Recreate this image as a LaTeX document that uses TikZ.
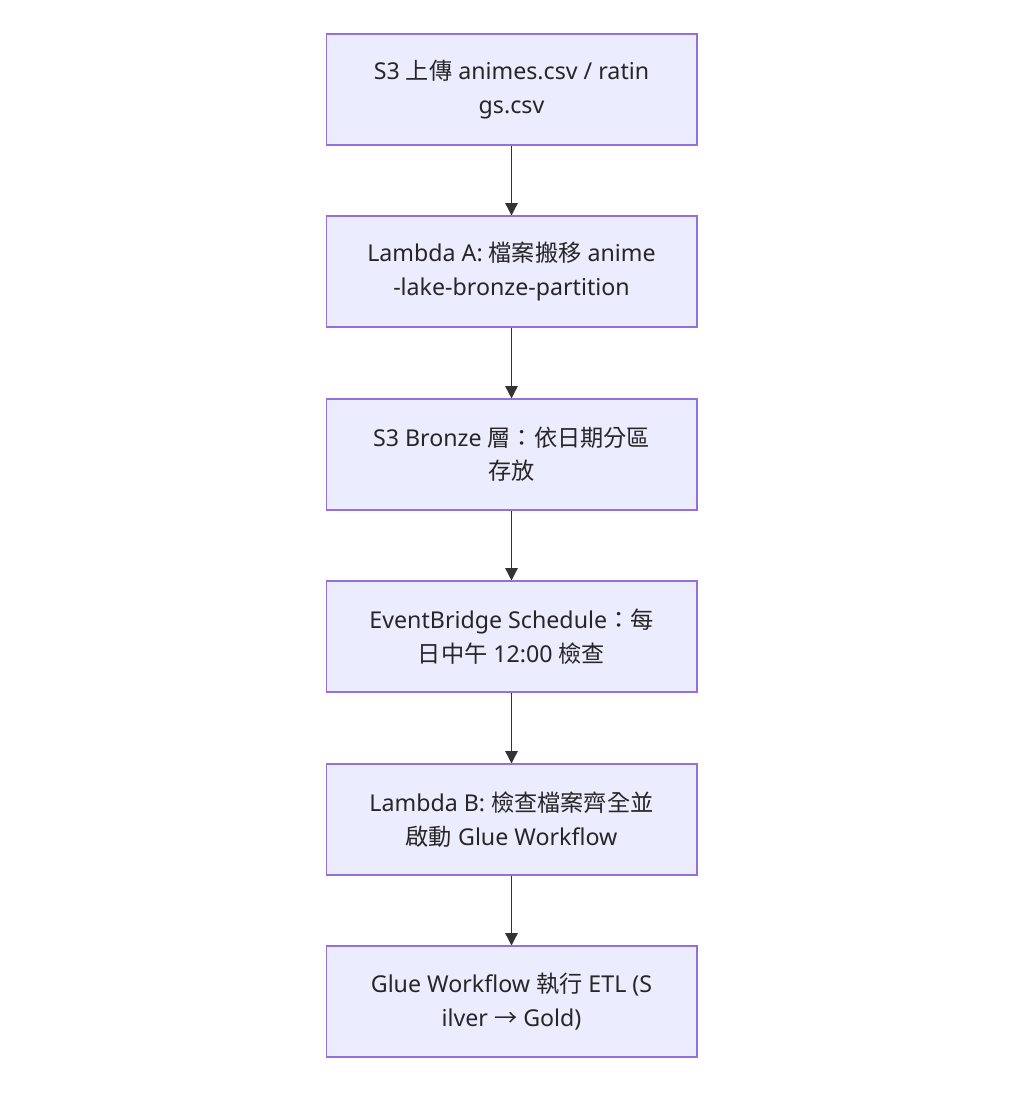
\documentclass[tikz,border=0pt]{standalone}
\usepackage{fontspec}
\setmainfont{Noto Sans}
\newfontfamily\cjk{Noto Sans CJK TC}
\usetikzlibrary{arrows.meta}

\definecolor{boxfill}{HTML}{ECECFF}
\definecolor{boxline}{HTML}{9370DB}
\definecolor{edgeline}{HTML}{333333}

\newcommand{\zh}[1]{{\cjk #1}}

\begin{document}
\begin{tikzpicture}[x=0.02cm,y=-0.02cm]

\tikzstyle{stage}=[shape=rectangle, draw=boxline, fill=boxfill,
    line width=0.6pt, align=center, text=black!85,
    minimum width=7.42cm, minimum height=2.22cm,
    font=\fontsize{13.2}{19}\selectfont]
\tikzstyle{flow}=[draw=edgeline, line width=0.8pt,
    -{Triangle[length=7pt,width=7pt]}]

\useasboundingbox (0,0) rectangle (1024,1101);

  \node[stage] (upload) at (511.5,89.5) {S3 \zh{上傳} animes.csv / ratin\\gs.csv};
  \node[stage] (lambdaA) at (511.5,271.5) {Lambda A: \zh{檔案搬移} anime\\-lake-bronze-partition};
  \node[stage] (bronze) at (511.5,454.5) {S3 Bronze \zh{層：依日期分區}\\\zh{存放}};
  \node[stage] (schedule) at (511.5,636.5) {EventBridge Schedule\zh{：每}\\\zh{日中午} 12:00 \zh{檢查}};
  \node[stage] (lambdaB) at (511.5,819.5) {Lambda B: \zh{檢查檔案齊全並}\\\zh{啟動} Glue Workflow};
  \node[stage] (glueETL) at (511.5,1001.5) {Glue Workflow \zh{執行} ETL (S\\ilver \zh{→} Gold)};

  \draw[flow] (upload) -- (lambdaA);
  \draw[flow] (lambdaA) -- (bronze);
  \draw[flow] (bronze) -- (schedule);
  \draw[flow] (schedule) -- (lambdaB);
  \draw[flow] (lambdaB) -- (glueETL);

\end{tikzpicture}
\end{document}
